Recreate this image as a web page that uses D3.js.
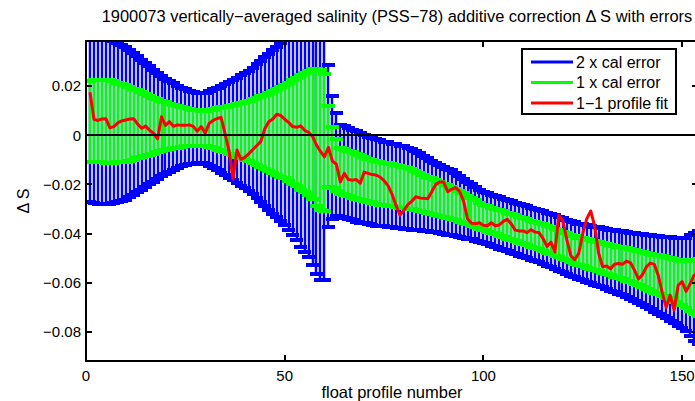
<!DOCTYPE html>
<html>
<head>
<meta charset="utf-8">
<script src="https://cdn.jsdelivr.net/npm/d3@7/dist/d3.min.js"></script>
<style>
  html, body { margin: 0; padding: 0; background: #fff; }
  svg { display: block; font-family: "Liberation Sans", Arial, Helvetica, sans-serif; }
</style>
</head>
<body>
<svg id="chart" width="695" height="401"></svg>
<script>
// Float 1900073: vertically-averaged salinity correction per profile.
// Profile numbers run 1..154 (array index + 1).

// 1-1 profile fit (red line)
const fitOffset = [
  0.0175, 0.0065, 0.0060, 0.0066, 0.0067, 0.0030, 0.0035, 0.0050, 0.0058, 0.0062,
  0.0066, 0.0067, 0.0045, 0.0028, 0.0037, 0.0020, 0.0008, -0.0015, 0.0075, 0.0040,
  0.0055, 0.0036, 0.0042, 0.0040, 0.0040, 0.0042, 0.0036, 0.0016, 0.0035, 0.0008,
  0.0048, 0.0060, 0.0068, 0.0072, 0.0005, -0.0065, -0.0178, -0.0060, -0.0098, -0.0090,
  -0.0075, -0.0058, -0.0042, -0.0025, 0.0026, 0.0055, 0.0066, 0.0085, 0.0080, 0.0065,
  0.0052, 0.0035, 0.0032, 0.0038, 0.0020, 0.0012, -0.0005, -0.0040, -0.0066, -0.0088,
  -0.0050, -0.0105, -0.0118, -0.0190, -0.0155, -0.0180, -0.0183, -0.0180, -0.0195, -0.0150,
  -0.0155, -0.0160, -0.0162, -0.0170, -0.0185, -0.0205, -0.0240, -0.0285, -0.0325, -0.0305,
  -0.0282, -0.0268, -0.0250, -0.0255, -0.0256, -0.0258, -0.0230, -0.0200, -0.0190, -0.0190,
  -0.0230, -0.0220, -0.0213, -0.0228, -0.0268, -0.0340, -0.0358, -0.0360, -0.0356, -0.0366,
  -0.0368, -0.0356, -0.0368, -0.0365, -0.0350, -0.0342, -0.0360, -0.0386, -0.0389, -0.0389,
  -0.0396, -0.0384, -0.0394, -0.0396, -0.0420, -0.0452, -0.0435, -0.0475, -0.0325, -0.0350,
  -0.0425, -0.0490, -0.0506, -0.0480, -0.0400, -0.0340, -0.0308, -0.0370, -0.0480, -0.0535,
  -0.0532, -0.0543, -0.0525, -0.0522, -0.0525, -0.0512, -0.0518, -0.0548, -0.0584, -0.0568,
  -0.0535, -0.0520, -0.0525, -0.0570, -0.0640, -0.0700, -0.0650, -0.0712, -0.0610, -0.0595,
  -0.0635, -0.0605, -0.0570, -0.0560
];

// calibrated additive correction (centre of the error bars)
const calOffset = [
  0.0057, 0.0058, 0.0058, 0.0058, 0.0057, 0.0056, 0.0054, 0.0052, 0.0050, 0.0048,
  0.0047, 0.0045, 0.0044, 0.0042, 0.0041, 0.0040, 0.0039, 0.0038, 0.0037, 0.0036,
  0.0035, 0.0035, 0.0034, 0.0033, 0.0032, 0.0031, 0.0030, 0.0029, 0.0028, 0.0028,
  0.0027, 0.0026, 0.0025, 0.0024, 0.0023, 0.0022, 0.0021, 0.0020, 0.0019, 0.0018,
  0.0018, 0.0017, 0.0016, 0.0015, 0.0014, 0.0013, 0.0013, 0.0013, 0.0013, 0.0014,
  0.0014, 0.0013, 0.0012, 0.0011, 0.0010, 0.0008, 0.0004, -0.0010, -0.0020, -0.0030,
  -0.0045, -0.0090, -0.0120, -0.0145, -0.0150, -0.0156, -0.0162, -0.0168, -0.0173, -0.0178,
  -0.0184, -0.0189, -0.0192, -0.0195, -0.0198, -0.0201, -0.0204, -0.0207, -0.0210, -0.0213,
  -0.0216, -0.0220, -0.0225, -0.0230, -0.0236, -0.0242, -0.0248, -0.0254, -0.0260, -0.0265,
  -0.0270, -0.0275, -0.0282, -0.0290, -0.0297, -0.0305, -0.0312, -0.0320, -0.0327, -0.0335,
  -0.0340, -0.0346, -0.0351, -0.0357, -0.0362, -0.0368, -0.0373, -0.0378, -0.0384, -0.0389,
  -0.0394, -0.0400, -0.0405, -0.0411, -0.0417, -0.0423, -0.0429, -0.0435, -0.0441, -0.0448,
  -0.0454, -0.0460, -0.0466, -0.0472, -0.0476, -0.0481, -0.0485, -0.0490, -0.0494, -0.0499,
  -0.0503, -0.0508, -0.0512, -0.0517, -0.0521, -0.0526, -0.0530, -0.0535, -0.0541, -0.0546,
  -0.0552, -0.0557, -0.0563, -0.0568, -0.0574, -0.0579, -0.0585, -0.0590, -0.0596, -0.0601,
  -0.0606, -0.0611, -0.0616, -0.0620
];

// 1 x calibration error
const calError = [
  0.0165, 0.0167, 0.0168, 0.0168, 0.0168, 0.0167, 0.0165, 0.0162, 0.0159, 0.0155,
  0.0150, 0.0144, 0.0138, 0.0132, 0.0126, 0.0120, 0.0114, 0.0108, 0.0102, 0.0097,
  0.0092, 0.0088, 0.0084, 0.0080, 0.0077, 0.0075, 0.0073, 0.0072, 0.0071, 0.0072,
  0.0076, 0.0080, 0.0084, 0.0089, 0.0093, 0.0097, 0.0102, 0.0107, 0.0112, 0.0117,
  0.0122, 0.0129, 0.0136, 0.0144, 0.0151, 0.0158, 0.0166, 0.0173, 0.0181, 0.0190,
  0.0200, 0.0210, 0.0220, 0.0232, 0.0242, 0.0252, 0.0265, 0.0278, 0.0285, 0.0280,
  0.0165, 0.0125, 0.0105, 0.0094, 0.0093, 0.0093, 0.0092, 0.0092, 0.0091, 0.0090,
  0.0089, 0.0088, 0.0088, 0.0087, 0.0086, 0.0086, 0.0085, 0.0085, 0.0084, 0.0084,
  0.0083, 0.0082, 0.0080, 0.0078, 0.0076, 0.0074, 0.0072, 0.0070, 0.0069, 0.0068,
  0.0067, 0.0066, 0.0064, 0.0062, 0.0060, 0.0058, 0.0056, 0.0055, 0.0053, 0.0052,
  0.0052, 0.0052, 0.0052, 0.0052, 0.0052, 0.0052, 0.0052, 0.0052, 0.0053, 0.0053,
  0.0053, 0.0053, 0.0053, 0.0053, 0.0054, 0.0054, 0.0054, 0.0055, 0.0055, 0.0055,
  0.0055, 0.0056, 0.0056, 0.0056, 0.0057, 0.0057, 0.0058, 0.0059, 0.0060, 0.0060,
  0.0061, 0.0062, 0.0063, 0.0064, 0.0065, 0.0066, 0.0067, 0.0069, 0.0070, 0.0072,
  0.0073, 0.0075, 0.0077, 0.0079, 0.0081, 0.0083, 0.0085, 0.0087, 0.0089, 0.0091,
  0.0095, 0.0102, 0.0110, 0.0115
];

const xTicks = [0, 50, 100, 150];
const yTicks = [0.02, 0, -0.02, -0.04, -0.06, -0.08];
const yTickLabels = ["0.02", "0", "\u22120.02", "\u22120.04", "\u22120.06", "\u22120.08"];
const legendLabels = ["2 x cal error", "1 x cal error", "1\u22121 profile fit"];
const legendColors = ["#0000ff", "#00ff00", "#ff0000"];
const titleText = "1900073 vertically\u2212averaged salinity (PSS\u221278) additive correction \u0394 S with errors";
const xLabel = "float profile number";
const yLabel = "\u0394 S";

const W = 695, H = 401;
const plot = { left: 86, top: 41, right: 698, bottom: 361 };

const x = d3.scaleLinear().domain([0, 154]).range([plot.left, plot.right]);
const y = d3.scaleLinear().domain([-0.0918, 0.0383]).range([plot.bottom, plot.top]);

const svg = d3.select("#chart");
svg.append("rect").attr("width", W).attr("height", H).attr("fill", "#fff");

svg.append("defs").append("clipPath").attr("id", "plotClip")
  .append("rect")
  .attr("x", plot.left).attr("y", plot.top)
  .attr("width", plot.right - plot.left).attr("height", plot.bottom - plot.top);

const rows = fitOffset.map((v, i) => ({
  profile: i + 1,
  fit: v,
  centre: calOffset[i],
  err: calError[i]
}));

const g = svg.append("g").attr("clip-path", "url(#plotClip)");

// half-width of the error-bar caps, in profile units
const tee = 1.6;

// snap to whole pixels so strokes stay solid
const px = v => Math.round(x(v));
const py = v => Math.round(y(v));

function stemPath(d, k) {
  const cx = px(d.profile);
  return `M${cx},${py(d.centre - k * d.err)}V${py(d.centre + k * d.err)}`;
}
function capPath(d, k) {
  const lo = py(d.centre - k * d.err), hi = py(d.centre + k * d.err);
  const xl = px(d.profile - tee), xr = px(d.profile + tee);
  return `M${xl},${hi}H${xr}M${xl},${lo}H${xr}`;
}

function drawBars(k, colour) {
  const layer = g.append("g").attr("stroke", colour).attr("fill", "none");
  layer.selectAll("path.stem").data(rows).join("path").attr("class", "stem")
    .attr("d", d => stemPath(d, k)).attr("stroke-width", 2.5);
  layer.selectAll("path.cap").data(rows).join("path").attr("class", "cap")
    .attr("d", d => capPath(d, k)).attr("stroke-width", 4)
    .attr("shape-rendering", "crispEdges");
}

// 2 x error (blue), then 1 x error (green) on top
drawBars(2, "#0000ff");
drawBars(1, "#00ff00");

// 1-1 profile fit
g.append("path").datum(rows)
  .attr("d", d3.line().x(d => x(d.profile)).y(d => y(d.fit)))
  .attr("fill", "none").attr("stroke", "#ff0000").attr("stroke-width", 3)
  .attr("stroke-linejoin", "round");

// zero line
g.append("line")
  .attr("x1", plot.left).attr("x2", plot.right)
  .attr("y1", py(0)).attr("y2", py(0))
  .attr("stroke", "#000").attr("stroke-width", 2)
  .attr("shape-rendering", "crispEdges");

// axes box
const axisStyle = sel => sel.attr("stroke", "#000").attr("stroke-width", 2)
  .attr("fill", "none").attr("shape-rendering", "crispEdges");
svg.append("rect")
  .attr("x", plot.left).attr("y", plot.top)
  .attr("width", plot.right - plot.left).attr("height", plot.bottom - plot.top)
  .call(axisStyle);

// ticks, inward on all four sides
const tickLen = 6;
const ticks = svg.append("g").call(axisStyle);
xTicks.forEach(t => {
  ticks.append("line").attr("x1", px(t)).attr("x2", px(t)).attr("y1", plot.bottom).attr("y2", plot.bottom - tickLen);
  ticks.append("line").attr("x1", px(t)).attr("x2", px(t)).attr("y1", plot.top).attr("y2", plot.top + tickLen);
});
yTicks.forEach(t => {
  ticks.append("line").attr("x1", plot.left).attr("x2", plot.left + tickLen).attr("y1", py(t)).attr("y2", py(t));
  ticks.append("line").attr("x1", plot.right).attr("x2", plot.right - tickLen).attr("y1", py(t)).attr("y2", py(t));
});

// tick labels
svg.append("g").selectAll("text").data(xTicks).join("text")
  .attr("x", d => x(d)).attr("y", 381)
  .attr("text-anchor", "middle").attr("font-size", 15).attr("fill", "#000")
  .text(d => d);

svg.append("g").selectAll("text").data(yTicks).join("text")
  .attr("x", 81).attr("y", d => y(d)).attr("dy", "0.36em")
  .attr("text-anchor", "end").attr("font-size", 15).attr("fill", "#000")
  .text((d, i) => yTickLabels[i]);

// axis labels and title
svg.append("text")
  .attr("x", (plot.left + plot.right) / 2).attr("y", 398)
  .attr("text-anchor", "middle").attr("font-size", 16.5).attr("fill", "#000")
  .text(xLabel);

svg.append("text")
  .attr("transform", `translate(29,${(plot.top + plot.bottom) / 2}) rotate(-90)`)
  .attr("text-anchor", "middle").attr("font-size", 16).attr("fill", "#000")
  .text(yLabel);

const title = svg.append("text")
  .attr("x", 397).attr("y", 22)
  .attr("text-anchor", "middle").attr("font-size", 15).attr("fill", "#000")
  .text(titleText);
const tw = title.node().getComputedTextLength();
title.attr("font-size", 15 * 591 / tw);

// legend
const lg = svg.append("g");
lg.append("rect")
  .attr("x", 522).attr("y", 49).attr("width", 154).attr("height", 65)
  .attr("fill", "#fff").attr("stroke", "#000").attr("stroke-width", 2)
  .attr("shape-rendering", "crispEdges");
legendLabels.forEach((label, i) => {
  const ly = 62 + i * 20.5;
  lg.append("line")
    .attr("x1", 531).attr("x2", 573).attr("y1", ly).attr("y2", ly)
    .attr("stroke", legendColors[i]).attr("stroke-width", 3);
  lg.append("text")
    .attr("x", 576).attr("y", ly).attr("dy", "0.36em")
    .attr("font-size", 16).attr("fill", "#000")
    .text(label);
});
</script>
</body>
</html>
